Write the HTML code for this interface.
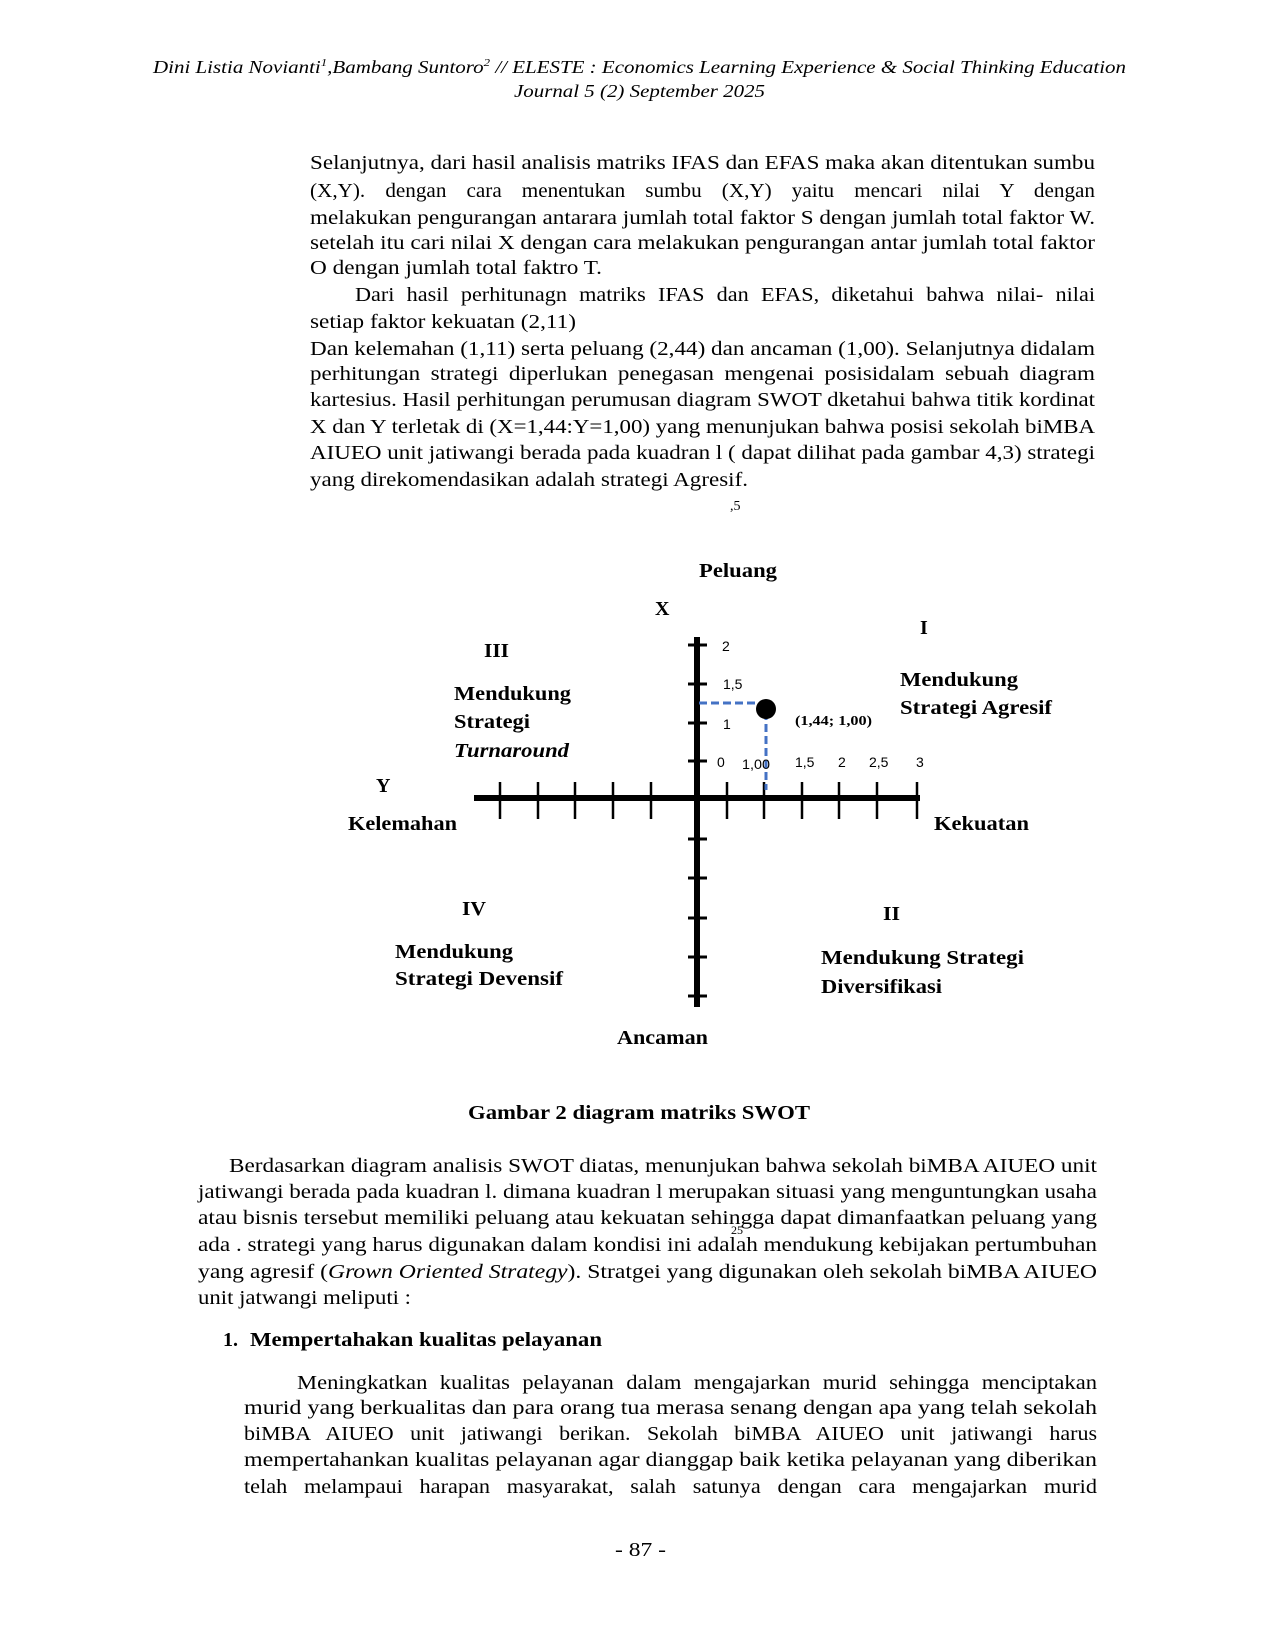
<!DOCTYPE html>
<html><head><meta charset="utf-8"><style>
html,body{margin:0;padding:0;background:#fff}
svg{display:block}
text{font-family:"Liberation Serif",serif;fill:#000}
.b{font-size:20px}
.d{font-size:20px;font-weight:bold}
.t text{font-family:"Liberation Sans",sans-serif;font-size:14px}
</style></head><body>
<svg width="1275" height="1650" viewBox="0 0 1275 1650" xmlns="http://www.w3.org/2000/svg">
<g font-style="italic" font-size="18">
<text x="153" y="73" textLength="973" lengthAdjust="spacingAndGlyphs">Dini Listia Novianti<tspan font-size="11" dy="-7">1</tspan><tspan dy="7">,Bambang Suntoro</tspan><tspan font-size="11" dy="-7">2</tspan><tspan dy="7"> // ELESTE : Economics Learning Experience &amp; Social Thinking Education</tspan></text>
<text x="514" y="97" textLength="251" lengthAdjust="spacingAndGlyphs">Journal 5 (2) September 2025</text>
</g>
<g class="b" font-size="20">
<text x="310" y="169" textLength="785" lengthAdjust="spacingAndGlyphs">Selanjutnya, dari hasil analisis matriks IFAS dan EFAS maka akan ditentukan sumbu</text>
<text x="310" y="197" textLength="785" lengthAdjust="spacingAndGlyphs" word-spacing="14">(X,Y). dengan cara menentukan sumbu (X,Y) yaitu mencari nilai Y dengan</text>
<text x="310" y="224" textLength="785" lengthAdjust="spacingAndGlyphs">melakukan pengurangan antarara jumlah total faktor S dengan jumlah total faktor W.</text>
<text x="310" y="249" textLength="785" lengthAdjust="spacingAndGlyphs">setelah itu cari nilai X dengan cara melakukan pengurangan antar jumlah total faktor</text>
<text x="310" y="274" textLength="292" lengthAdjust="spacingAndGlyphs">O dengan jumlah total faktro T.</text>
<text x="355" y="301" textLength="740" lengthAdjust="spacingAndGlyphs" word-spacing="6">Dari hasil perhitunagn matriks IFAS dan EFAS, diketahui bahwa nilai- nilai</text>
<text x="310" y="328" textLength="266" lengthAdjust="spacingAndGlyphs">setiap faktor kekuatan (2,11)</text>
<text x="310" y="355" textLength="785" lengthAdjust="spacingAndGlyphs">Dan kelemahan (1,11) serta peluang (2,44) dan ancaman (1,00). Selanjutnya didalam</text>
<text x="310" y="380" textLength="785" lengthAdjust="spacingAndGlyphs" word-spacing="4">perhitungan  strategi diperlukan penegasan mengenai posisidalam sebuah diagram</text>
<text x="310" y="406" textLength="785" lengthAdjust="spacingAndGlyphs">kartesius. Hasil perhitungan perumusan diagram SWOT dketahui bahwa titik kordinat</text>
<text x="310" y="433" textLength="785" lengthAdjust="spacingAndGlyphs">X dan Y terletak di (X=1,44:Y=1,00) yang menunjukan bahwa posisi sekolah biMBA</text>
<text x="310" y="459" textLength="785" lengthAdjust="spacingAndGlyphs">AIUEO unit jatiwangi berada pada kuadran l ( dapat dilihat pada gambar 4,3) strategi</text>
<text x="310" y="486" textLength="438" lengthAdjust="spacingAndGlyphs">yang direkomendasikan adalah strategi Agresif.</text>
</g>
<text x="730" y="510" font-size="14">,5</text>

<g stroke="#000" fill="none">
<line x1="697" y1="637" x2="697" y2="1007" stroke-width="6"/>
<line x1="474" y1="798" x2="920" y2="798" stroke-width="6"/>
<g stroke-width="2.5">
<line x1="500" y1="782" x2="500" y2="819"/><line x1="538" y1="782" x2="538" y2="819"/>
<line x1="575" y1="782" x2="575" y2="819"/><line x1="613" y1="782" x2="613" y2="819"/>
<line x1="651" y1="782" x2="651" y2="819"/><line x1="727" y1="782" x2="727" y2="819"/>
<line x1="764" y1="782" x2="764" y2="819"/><line x1="802" y1="782" x2="802" y2="819"/>
<line x1="839" y1="782" x2="839" y2="819"/><line x1="877" y1="782" x2="877" y2="819"/>
<line x1="917" y1="782" x2="917" y2="819"/>
</g>
<g stroke-width="3">
<line x1="688" y1="645" x2="707" y2="645"/><line x1="688" y1="684" x2="707" y2="684"/>
<line x1="688" y1="723" x2="707" y2="723"/><line x1="688" y1="761" x2="707" y2="761"/>
<line x1="688" y1="839" x2="707" y2="839"/><line x1="688" y1="878" x2="707" y2="878"/>
<line x1="688" y1="918" x2="707" y2="918"/><line x1="688" y1="957" x2="707" y2="957"/>
<line x1="688" y1="996" x2="707" y2="996"/>
</g>
<g stroke="#4472c4" stroke-width="3" stroke-dasharray="8,4">
<line x1="699" y1="703" x2="762" y2="703"/>
<line x1="766" y1="712" x2="766" y2="790"/>
</g>
</g>
<circle cx="766" cy="709" r="10" fill="#000"/>
<g class="t">
<text x="722" y="651">2</text>
<text x="723" y="689">1,5</text>
<text x="723" y="729">1</text>
<text x="717" y="767">0</text>
<text x="742" y="769" textLength="28" lengthAdjust="spacingAndGlyphs">1,00</text>
<text x="795" y="767">1,5</text>
<text x="838" y="767">2</text>
<text x="869" y="767">2,5</text>
<text x="916" y="767">3</text>
</g>
<text x="795" y="725" font-size="14" font-weight="bold" textLength="77" lengthAdjust="spacingAndGlyphs">(1,44; 1,00)</text>
<g class="d">
<text x="699" y="577" textLength="78" lengthAdjust="spacingAndGlyphs">Peluang</text>
<text x="655" y="615">X</text>
<text x="920" y="634">I</text>
<text x="484" y="657" textLength="25" lengthAdjust="spacingAndGlyphs">III</text>
<text x="454" y="700" textLength="117" lengthAdjust="spacingAndGlyphs">Mendukung</text>
<text x="454" y="728" textLength="76" lengthAdjust="spacingAndGlyphs">Strategi</text>
<text x="454" y="757" font-style="italic" textLength="115" lengthAdjust="spacingAndGlyphs">Turnaround</text>
<text x="900" y="686" textLength="118" lengthAdjust="spacingAndGlyphs">Mendukung</text>
<text x="900" y="714" textLength="152" lengthAdjust="spacingAndGlyphs">Strategi Agresif</text>
<text x="376" y="792">Y</text>
<text x="348" y="830" textLength="109" lengthAdjust="spacingAndGlyphs">Kelemahan</text>
<text x="934" y="830" textLength="95" lengthAdjust="spacingAndGlyphs">Kekuatan</text>
<text x="462" y="915" textLength="24" lengthAdjust="spacingAndGlyphs">IV</text>
<text x="883" y="920" textLength="17" lengthAdjust="spacingAndGlyphs">II</text>
<text x="395" y="958" textLength="118" lengthAdjust="spacingAndGlyphs">Mendukung</text>
<text x="395" y="985" textLength="168" lengthAdjust="spacingAndGlyphs">Strategi Devensif</text>
<text x="821" y="964" textLength="203" lengthAdjust="spacingAndGlyphs">Mendukung Strategi</text>
<text x="821" y="993" textLength="121" lengthAdjust="spacingAndGlyphs">Diversifikasi</text>
<text x="617" y="1044" textLength="91" lengthAdjust="spacingAndGlyphs">Ancaman</text>
<text x="468" y="1119" textLength="342" lengthAdjust="spacingAndGlyphs">Gambar 2 diagram matriks SWOT</text>
</g>

<g class="b">
<text x="229" y="1172" textLength="868" lengthAdjust="spacingAndGlyphs">Berdasarkan diagram analisis SWOT diatas, menunjukan bahwa  sekolah biMBA AIUEO unit</text>
<text x="198" y="1198" textLength="899" lengthAdjust="spacingAndGlyphs">jatiwangi berada pada kuadran l. dimana kuadran l merupakan situasi yang menguntungkan usaha</text>
<text x="198" y="1224" textLength="899" lengthAdjust="spacingAndGlyphs">atau bisnis tersebut memiliki peluang atau kekuatan sehingga dapat dimanfaatkan  peluang  yang</text>
<text x="198" y="1251" textLength="899" lengthAdjust="spacingAndGlyphs">ada . strategi yang harus digunakan dalam kondisi ini adalah mendukung kebijakan pertumbuhan</text>
<text x="198" y="1278" textLength="899" lengthAdjust="spacingAndGlyphs">yang agresif (<tspan font-style="italic">Grown Oriented Strategy</tspan>). Stratgei yang digunakan oleh sekolah biMBA AIUEO</text>
<text x="198" y="1304" textLength="213" lengthAdjust="spacingAndGlyphs">unit jatwangi meliputi :</text>
<text x="731" y="1234" font-size="12">25</text>
<text x="223" y="1346" font-weight="bold">1.</text>
<text x="250" y="1346" font-weight="bold" textLength="352" lengthAdjust="spacingAndGlyphs">Mempertahakan kualitas pelayanan</text>
<text x="297" y="1389" textLength="800" lengthAdjust="spacingAndGlyphs" word-spacing="6">Meningkatkan kualitas pelayanan dalam mengajarkan murid sehingga menciptakan</text>
<text x="244" y="1414" textLength="853" lengthAdjust="spacingAndGlyphs">murid yang berkualitas dan para orang tua merasa senang dengan apa yang telah sekolah</text>
<text x="244" y="1440" textLength="853" lengthAdjust="spacingAndGlyphs" word-spacing="10">biMBA AIUEO unit jatiwangi berikan. Sekolah biMBA AIUEO unit jatiwangi harus</text>
<text x="244" y="1466" textLength="853" lengthAdjust="spacingAndGlyphs">mempertahankan kualitas pelayanan  agar dianggap baik ketika pelayanan yang diberikan</text>
<text x="244" y="1493" textLength="853" lengthAdjust="spacingAndGlyphs" word-spacing="10">telah melampaui harapan masyarakat, salah satunya dengan cara mengajarkan murid</text>
<text x="615" y="1556" textLength="51" lengthAdjust="spacingAndGlyphs">- 87 -</text>
</g>
</svg>
</body></html>
